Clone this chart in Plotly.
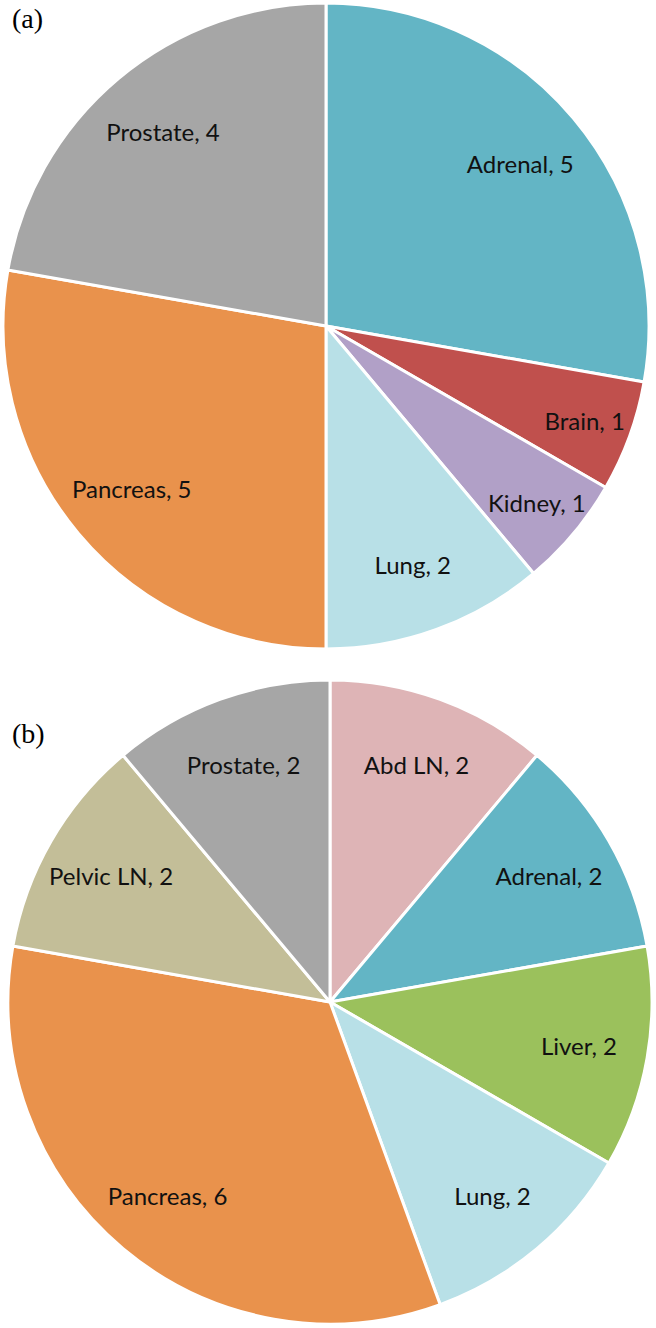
import plotly.graph_objects as go

W, H = 656, 1328

labels_a = ["Adrenal", "Brain", "Kidney", "Lung", "Pancreas", "Prostate"]
values_a = [5, 1, 1, 2, 5, 4]
colors_a = ["#63B5C5", "#C0504D", "#B1A0C7", "#B8E0E7", "#E9924C", "#A6A6A6"]

labels_b = ["Abd LN", "Adrenal", "Liver", "Lung", "Pancreas", "Pelvic LN", "Prostate"]
values_b = [2, 2, 2, 2, 6, 2, 2]
colors_b = ["#DEB4B6", "#63B5C5", "#9BC15C", "#B8E0E7", "#E9924C", "#C3BE98", "#A6A6A6"]

FONT = "Lato, Open Sans, sans-serif"
SERIF = "Liberation Serif, Times New Roman, serif"


def dom(cx, cy, r):
    x0, x1 = max(cx - r, 0), min(cx + r, W)
    y0, y1 = max(cy - r, 0), min(cy + r, H)
    return dict(x=[x0 / W, x1 / W], y=[1 - y1 / H, 1 - y0 / H])


fig = go.Figure()
for labels, values, colors, d in [
    (labels_a, values_a, colors_a, dom(326, 326, 323)),
    (labels_b, values_b, colors_b, dom(330, 1002, 322)),
]:
    # filled slices
    fig.add_trace(go.Pie(
        labels=labels, values=values, sort=False, direction="clockwise", rotation=0,
        marker=dict(colors=colors, line=dict(color="white", width=3)),
        textinfo="none", domain=d, showlegend=False, hoverinfo="label+value",
    ))
    # transparent ring carrying the labels near the outer part of each slice
    fig.add_trace(go.Pie(
        labels=labels, values=values, sort=False, direction="clockwise", rotation=0,
        hole=0.57,
        marker=dict(colors=["rgba(0,0,0,0)"] * len(labels), line=dict(width=0)),
        texttemplate="%{label}, %{value}", textposition="inside",
        insidetextorientation="horizontal",
        textfont=dict(family=FONT, size=24, color="#111111"),
        domain=d, showlegend=False, hoverinfo="skip",
    ))

fig.add_annotation(text="(a)", x=10 / W, y=1 - 19 / H, xref="paper", yref="paper",
                   xanchor="left", yanchor="middle", showarrow=False,
                   font=dict(family=SERIF, size=28, color="#000"))
fig.add_annotation(text="(b)", x=10 / W, y=1 - 733 / H, xref="paper", yref="paper",
                   xanchor="left", yanchor="middle", showarrow=False,
                   font=dict(family=SERIF, size=28, color="#000"))

fig.update_layout(width=W, height=H, margin=dict(l=0, r=0, t=0, b=0),
                  paper_bgcolor="white", plot_bgcolor="white",
                  uniformtext=dict(minsize=24, mode="show"))

fig.write_html("out.html", config={"displayModeBar": False},
               post_script="document.body.style.margin='0';")
